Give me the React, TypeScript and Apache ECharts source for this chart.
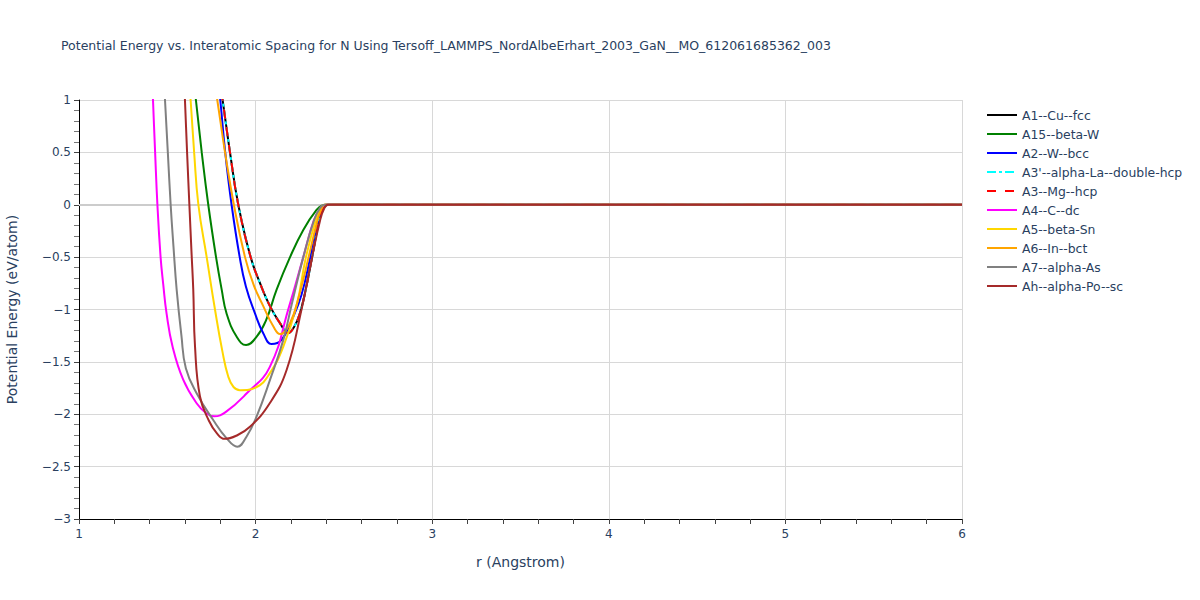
import React, { useEffect, useRef } from "react";
import * as echarts from "echarts";

const TITLE = "Potential Energy vs. Interatomic Spacing for N Using Tersoff_LAMMPS_NordAlbeErhart_2003_GaN__MO_612061685362_003";
const X_NAME = "r (Angstrom)";
const Y_NAME = "Potential Energy (eV/atom)";

const seriesNames = [
  "A1--Cu--fcc",
  "A15--beta-W",
  "A2--W--bcc",
  "A3'--alpha-La--double-hcp",
  "A3--Mg--hcp",
  "A4--C--dc",
  "A5--beta-Sn",
  "A6--In--bct",
  "A7--alpha-As",
  "Ah--alpha-Po--sc",
];

const seriesColors = ["#000000", "#008000", "#0000ff", "#00ffff", "#ff0000", "#ff00ff", "#ffd700", "#ffa500", "#808080", "#a52a2a"];

// [r, E]
const hcpLike: number[][] = [
  [1.79, 1.25], [1.813, 1.0], [1.855, 0.5], [1.902, 0.0], [1.972, -0.5], [2.03, -0.77], [2.082, -0.97],
  [2.138, -1.13], [2.185, -1.225], [2.22, -1.16], [2.25, -1.04], [2.28, -0.84], [2.32, -0.5],
  [2.36, -0.15], [2.385, -0.03], [2.41, 0.0], [2.46, 0.0], [6.0, 0.0],
];
const a1Data = hcpLike;
const a3pData = hcpLike;
const a3Data = hcpLike;

const a15Data: number[][] = [
  [1.63, 1.45], [1.662, 1.0], [1.695, 0.5], [1.732, 0.0], [1.776, -0.5], [1.808, -0.81], [1.836, -1.04],
  [1.893, -1.26], [1.946, -1.34], [2.006, -1.26], [2.06, -1.1], [2.119, -0.81], [2.195, -0.5],
  [2.27, -0.24], [2.345, -0.05], [2.38, -0.005], [2.40, 0.0], [2.46, 0.0], [6.0, 0.0],
];

const a2Data: number[][] = [
  [1.78, 1.3], [1.80, 1.0], [1.828, 0.5], [1.864, 0.0], [1.91, -0.5], [1.945, -0.78], [1.997, -1.04],
  [2.044, -1.23], [2.09, -1.33], [2.147, -1.29], [2.213, -1.07], [2.26, -0.86], [2.31, -0.5],
  [2.355, -0.15], [2.38, -0.03], [2.40, 0.0], [2.46, 0.0], [6.0, 0.0],
];

const a4Data: number[][] = [
  [1.40, 1.8], [1.419, 1.0], [1.431, 0.5], [1.444, 0.0], [1.462, -0.5], [1.477, -0.76], [1.496, -1.04],
  [1.53, -1.355], [1.59, -1.67], [1.666, -1.895], [1.72, -1.99], [1.765, -2.02], [1.83, -1.98],
  [1.95, -1.80], [2.08, -1.55], [2.19, -0.97], [2.27, -0.5], [2.33, -0.15], [2.37, -0.03],
  [2.40, 0.0], [2.46, 0.0], [6.0, 0.0],
];

const a5Data: number[][] = [
  [1.61, 1.5], [1.632, 1.0], [1.652, 0.5], [1.676, 0.0], [1.723, -0.5], [1.77, -1.0], [1.812, -1.4],
  [1.845, -1.64], [1.875, -1.74], [1.911, -1.77], [2.006, -1.74], [2.08, -1.61], [2.157, -1.355],
  [2.233, -0.955], [2.285, -0.5], [2.34, -0.15], [2.37, -0.03], [2.39, 0.0], [2.45, 0.0], [6.0, 0.0],
];

const a6Data: number[][] = [
  [1.76, 1.25], [1.783, 1.0], [1.827, 0.5], [1.877, 0.0], [1.94, -0.5], [1.99, -0.77], [2.044, -0.97],
  [2.10, -1.16], [2.138, -1.234], [2.195, -1.13], [2.25, -0.845], [2.30, -0.5], [2.35, -0.15],
  [2.375, -0.03], [2.39, 0.0], [2.45, 0.0], [6.0, 0.0],
];

const a7Data: number[][] = [
  [1.465, 1.7], [1.487, 1.0], [1.503, 0.5], [1.519, 0.0], [1.535, -0.4], [1.553, -0.81], [1.58, -1.25],
  [1.605, -1.56], [1.666, -1.80], [1.76, -2.055], [1.836, -2.23], [1.896, -2.31], [1.95, -2.21],
  [2.006, -2.02], [2.082, -1.67], [2.157, -1.29], [2.204, -0.955], [2.27, -0.5], [2.33, -0.15],
  [2.365, -0.03], [2.39, 0.0], [2.45, 0.0], [6.0, 0.0],
];

const ahData: number[][] = [
  [1.585, 1.6], [1.60, 1.0], [1.612, 0.5], [1.625, 0.0], [1.637, -0.45], [1.647, -0.81], [1.657, -1.355],
  [1.685, -1.83], [1.735, -2.06], [1.78, -2.18], [1.825, -2.235], [1.89, -2.205], [1.968, -2.12],
  [2.08, -1.895], [2.176, -1.575], [2.26, -1.0], [2.32, -0.5], [2.365, -0.15], [2.39, -0.03],
  [2.41, 0.0], [2.46, 0.0], [6.0, 0.0],
];

const seriesData = [a1Data, a15Data, a2Data, a3pData, a3Data, a4Data, a5Data, a6Data, a7Data, ahData];
const seriesDash: any[] = ["solid", "solid", "solid", [9, 3, 3, 3], [9, 9], "solid", "solid", "solid", "solid", "solid"];

const X_MIN = 1, X_MAX = 6, X_STEP = 1;
const Y_MIN = -3, Y_MAX = 1, Y_STEP = 0.5;

const FONT = "'DejaVu Sans', Verdana, sans-serif";
const TEXT_COLOR = "#2a3f5f";

export default function App() {
  const ref = useRef<HTMLDivElement>(null);
  useEffect(() => {
    if (!ref.current) return;
    const chart = echarts.init(ref.current, null, { renderer: "svg" });
    const series: any[] = seriesNames.map((name, i) => ({
      name,
      type: "line",
      data: seriesData[i],
      showSymbol: false,
      symbol: "none",
      smooth: 0.45,
      clip: true,
      color: seriesColors[i],
      lineStyle: { width: 2, color: seriesColors[i], type: seriesDash[i] },
      z: 2 + i,
    }));
    series[0].markLine = {
      silent: true,
      symbol: "none",
      label: { show: false },
      lineStyle: { color: "#cccccc", width: 2, type: "solid" },
      data: [{ yAxis: 0 }],
      z: 1,
    };
    chart.setOption({
      animation: false,
      backgroundColor: "#ffffff",
      textStyle: { fontFamily: FONT },
      title: {
        text: TITLE,
        left: 61,
        top: 39,
        padding: 0,
        textStyle: { fontFamily: FONT, fontSize: 12.5, fontWeight: "normal", color: TEXT_COLOR },
      },
      legend: {
        orient: "vertical",
        left: 986,
        top: 109,
        padding: 0,
        itemWidth: 30,
        itemHeight: 14,
        itemGap: 7,
        itemStyle: { opacity: 0 },
        textStyle: { fontFamily: FONT, fontSize: 12.4, color: TEXT_COLOR, padding: [0, 0, 0, 0] },
        data: seriesNames,
      },
      grid: { left: 79, right: 238, top: 100, bottom: 81, containLabel: false, outerBoundsMode: "none" },
      xAxis: {
        type: "value",
        min: X_MIN,
        max: X_MAX,
        interval: X_STEP,
        name: X_NAME,
        nameLocation: "middle",
        nameGap: 36,
        nameTextStyle: { fontFamily: FONT, fontSize: 14, color: TEXT_COLOR },
        axisLine: { show: true, onZero: false, lineStyle: { color: "#000", width: 1 } },
        axisTick: { show: true, length: 5, lineStyle: { color: "#444" } },
        minorTick: { show: true, splitNumber: 5, length: 5, lineStyle: { color: "#444" } },
        axisLabel: { fontFamily: FONT, fontSize: 12, color: TEXT_COLOR, margin: 9 },
        splitLine: { show: true, lineStyle: { color: "#d8d8d8", width: 1 } },
      },
      yAxis: {
        type: "value",
        min: Y_MIN,
        max: Y_MAX,
        interval: Y_STEP,
        name: Y_NAME,
        nameLocation: "middle",
        nameGap: 60,
        nameTextStyle: { fontFamily: FONT, fontSize: 14, color: TEXT_COLOR },
        axisLine: { show: true, onZero: false, lineStyle: { color: "#000", width: 1 } },
        axisTick: { show: true, length: 5, lineStyle: { color: "#444" } },
        minorTick: { show: true, splitNumber: 5, length: 5, lineStyle: { color: "#777" } },
        axisLabel: {
          fontFamily: FONT,
          fontSize: 12,
          color: TEXT_COLOR,
          margin: 8,
          formatter: (v: number) => String(v).replace("-", "\u2212"),
        },
        splitLine: { show: true, lineStyle: { color: "#d8d8d8", width: 1 } },
      },
      series,
    });
    return () => chart.dispose();
  }, []);
  return <div ref={ref} style={{ width: 1200, height: 600, position: "absolute", left: 0, top: 0 }} />;
}
